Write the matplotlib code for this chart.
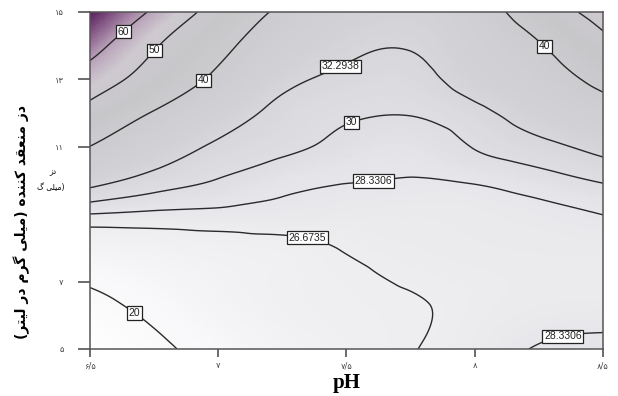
import numpy as np
import matplotlib
matplotlib.use("Agg")
import matplotlib.pyplot as plt
import matplotlib.tri as mtri
from matplotlib.colors import LinearSegmentedColormap

# grid: response at pH x dose nodes
ph = [6.5, 6.75, 7.0, 7.25, 7.5, 7.75, 8.0, 8.25, 8.5]
dose = [5, 6, 7, 8, 9, 10, 11, 12, 13, 14, 15]
resp = [
    [15.5, 18.8, 22.0, 24.3, 25.7, 26.6, 27.3, 28.5, 28.9],
    [17.5, 20.8, 23.5, 25.3, 26.1, 26.5, 27.1, 27.6, 27.8],
    [20.6, 22.8, 24.5, 25.6, 26.3, 26.8, 27.1, 27.3, 27.3],
    [24.3, 25.0, 25.6, 26.0, 26.8, 27.2, 27.4, 27.5, 27.6],
    [28.3, 28.0, 27.9, 27.8, 27.6, 27.5, 27.6, 27.9, 28.35],
    [33.6, 31.2, 29.9, 28.8, 28.4, 28.25, 28.5, 29.2, 30.2],
    [39.9, 34.8, 31.8, 30.5, 29.4, 29.0, 30.1, 31.5, 33.3],
    [47.0, 39.5, 34.5, 31.4, 30.3, 30.1, 31.5, 34.1, 37.0],
    [55.0, 46.0, 38.5, 33.3, 31.6, 31.3, 33.8, 36.8, 42.0],
    [64.0, 50.8, 42.0, 35.8, 33.0, 32.5, 35.0, 39.5, 47.5],
    [73.0, 58.5, 46.5, 38.8, 34.8, 33.8, 36.5, 44.5, 53.5],
]

levels = [20, 26.6735, 28.3306, 30, 32.2938, 40, 50, 60]
level_txt = ["20", "26.6735", "28.3306", "30", "32.2938", "40", "50", "60"]
label_pos = [(6.62, 14.5), (6.75, 13.87), (6.94, 12.98), (7.47, 13.5),
             (7.52, 11.74), (7.6, 10.25), (7.35, 8.38), (6.69, 6.25),
             (8.34, 5.5), (8.27, 13.96)]

xticks = [6.5, 7.0, 7.5, 8.0, 8.5]
xtick_txt = ["۶/۵", "۷", "۷/۵", "۸", "۸/۵"]
yticks = [5, 7, 11, 13, 15]
ytick_txt = ["۵", "۷", "۱۱", "۱۳", "۱۵"]

ylab = "دز منعقد کننده (میلی گرم در لیتر)"

# presentation forms: isolated, final, initial, medial
FORMS = {
    'د': ('\uFEA9', '\uFEAA', None, None),
    'ز': ('\uFEAF', '\uFEB0', None, None),
    'ر': ('\uFEAD', '\uFEAE', None, None),
    'م': ('\uFEE1', '\uFEE2', '\uFEE3', '\uFEE4'),
    'ن': ('\uFEE5', '\uFEE6', '\uFEE7', '\uFEE8'),
    'ع': ('\uFEC9', '\uFECA', '\uFECB', '\uFECC'),
    'ق': ('\uFED5', '\uFED6', '\uFED7', '\uFED8'),
    'ک': ('\uFB8E', '\uFB8F', '\uFB90', '\uFB91'),
    'ه': ('\uFEE9', '\uFEEA', '\uFEEB', '\uFEEC'),
    'ی': ('\uFBFC', '\uFBFD', '\uFBFE', '\uFBFF'),
    'ل': ('\uFEDD', '\uFEDE', '\uFEDF', '\uFEE0'),
    'گ': ('\uFB92', '\uFB93', '\uFB94', '\uFB95'),
    'ت': ('\uFE95', '\uFE96', '\uFE97', '\uFE98'),
}


def rtl(s):
    out = []
    for i, c in enumerate(s):
        if c not in FORMS:
            out.append(c)
            continue
        iso, fin, ini, med = FORMS[c]
        prev = s[i - 1] if i > 0 else ''
        nxt = s[i + 1] if i + 1 < len(s) else ''
        jp = prev in FORMS and FORMS[prev][2] is not None
        jn = ini is not None and nxt in FORMS
        if jp and jn:
            out.append(med)
        elif jp:
            out.append(fin)
        elif jn:
            out.append(ini)
        else:
            out.append(iso)
    vis = ''.join(out)[::-1]
    return vis.translate(str.maketrans('()', ')('))


# regular grid triangles with one diagonal direction
nx, ny = len(ph), len(dose)
X, Y = np.meshgrid(ph, dose)
tris = []
for j in range(ny - 1):
    for i in range(nx - 1):
        a = j * nx + i
        tris.append([a, a + 1, a + nx + 1])
        tris.append([a, a + nx + 1, a + nx])
tri = mtri.Triangulation(X.ravel(), Y.ravel(), tris)
interp = mtri.CubicTriInterpolator(tri, np.array(resp).ravel(), kind="min_E")
tri_f, z_f = mtri.UniformTriRefiner(tri).refine_field(np.array(resp).ravel(),
                                                     triinterpolator=interp, subdiv=4)

cmap = LinearSegmentedColormap.from_list("shade", [
    (0.0, "#ffffff"), (0.12, "#f8f7f9"), (0.2, "#eeedf0"),
    (0.26, "#dedde2"), (0.33, "#d2d2d6"), (0.52, "#c7c7ca"),
    (0.66, "#cfcad0"), (0.78, "#b89fb8"), (1.0, "#5a1c5c")])

fig = plt.figure(figsize=(6.18, 3.96), dpi=100)
ax = fig.add_axes([0.1456, 0.1187, 0.830, 0.851])
ax.tripcolor(tri_f, z_f, cmap=cmap, vmin=15, vmax=73, shading='gouraud')
cs = ax.tricontour(tri_f, z_f, levels=levels, colors="#2a2a2a", linewidths=1.0)
labs = ax.clabel(cs, fmt=dict(zip(levels, level_txt)), manual=label_pos,
                 inline=False, fontsize=7.5, colors="#222222")
for t in labs:
    t.set_rotation(0)
    t.set_family("Liberation Sans")
    t.set_bbox(dict(facecolor="white", edgecolor="#222222", pad=1.2, lw=0.9))
    t.set_zorder(5)

ax.set_xlim(6.5, 8.5)
ax.set_ylim(5, 15)
ax.set_xticks(xticks, xtick_txt, fontsize=6)
ax.set_yticks(yticks, ytick_txt, fontsize=6)
ax.tick_params(axis="y", direction="out", length=9, width=1.1, pad=10, colors="#444444")
ax.tick_params(axis="x", direction="out", length=6, width=1.1, pad=3, colors="#444444")
for sp in ax.spines.values():
    sp.set_color("#555555")
    sp.set_linewidth(1.1)

ax.set_xlabel("pH", family="Liberation Serif", fontweight="bold", fontsize=15, labelpad=2)
fig.text(0.035, 0.44, rtl(ylab), rotation=90, ha="center", va="center",
         fontsize=10, fontweight="bold")
fig.text(0.086, 0.566, rtl("دز"), ha="center", va="center", fontsize=5.5)
fig.text(0.082, 0.526, rtl("(میلی گ"), ha="center", va="center", fontsize=5.5)

fig.savefig("out.png", dpi=100)
